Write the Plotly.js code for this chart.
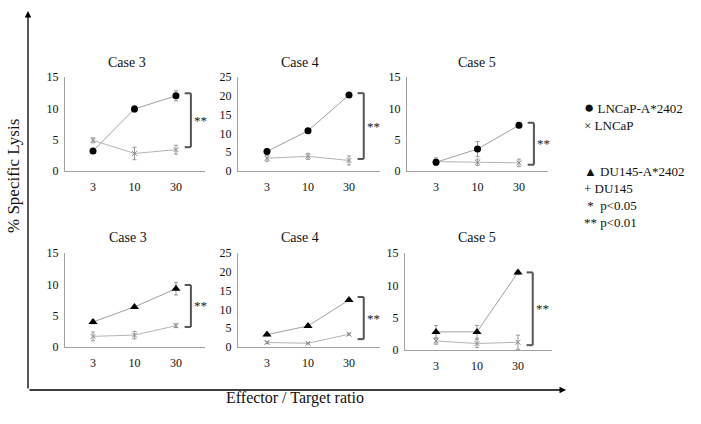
<!DOCTYPE html>
<html><head><meta charset="utf-8">
<script src="https://cdn.plot.ly/plotly-3.0.1.min.js"></script>
<style>html,body{margin:0;padding:0;background:#fff}#chart{width:701px;height:424px}</style>
</head><body><div id="chart"></div>
<script>
// ---- data ----
const ratios = ['3', '10', '30'];
const caseTitles = ['Case 3', 'Case 4', 'Case 5', 'Case 3', 'Case 4', 'Case 5'];

// top row: LNCaP-A*2402 (circles) and LNCaP (x)
const lncapA2402_case3 = [3.2, 9.9, 12.0];
const lncapA2402_case3_err = [0.4, 0.5, 0.8];
const lncap_case3 = [4.9, 2.8, 3.4];
const lncap_case3_err = [0.4, 1.0, 0.7];

const lncapA2402_case4 = [5.2, 10.7, 20.2];
const lncapA2402_case4_err = [0.8, 0.5, 0.4];
const lncap_case4 = [3.4, 3.9, 2.8];
const lncap_case4_err = [0.8, 0.8, 1.2];

const lncapA2402_case5 = [1.4, 3.5, 7.3];
const lncapA2402_case5_err = [0.5, 1.2, 0.4];
const lncap_case5 = [1.5, 1.4, 1.3];
const lncap_case5_err = [0.6, 0.5, 0.6];

// bottom row: DU145-A*2402 (triangles) and DU145
const du145A2402_case3 = [4.0, 6.4, 9.3];
const du145A2402_case3_err = [0.3, 0.2, 1.0];
const du145_case3 = [1.7, 1.9, 3.4];
const du145_case3_err = [0.7, 0.6, 0.3];

const du145A2402_case4 = [3.3, 5.6, 12.5];
const du145A2402_case4_err = [0.3, 0.3, 0.4];
const du145_case4 = [1.2, 1.0, 3.4];
const du145_case4_err = [0.3, 0.2, 0.3];

const du145A2402_case5 = [2.8, 2.8, 12.0];
const du145A2402_case5_err = [1.0, 1.0, 0.3];
const du145_case5 = [1.4, 1.0, 1.2];
const du145_case5_err = [0.5, 0.6, 1.1];

// significance brackets [low, high]
const bracketLow = [3.8, 3.2, 1.0, 3.2, 2.1, 0.75];
const bracketHigh = [12.4, 20.7, 7.7, 9.9, 13.3, 12.0];
const sigLabels = ['**', '**', '**', '**', '**', '**'];

const yMax = [15, 25, 15, 15, 25, 15];

// ---- layout geometry ----
const W = 701, H = 424;
const px = v => v / W;
const py = v => 1 - v / H;
const panels = [
  {dx: [65, 205], dy: [171, 77], rx: [-0.675, 2.7], tx: 127, ty: 62, up: lncapA2402_case3, upE: lncapA2402_case3_err, lo: lncap_case3, loE: lncap_case3_err, sym: 'circle'},
  {dx: [238, 380], dy: [171, 77], rx: [-0.707, 2.756], tx: 300, ty: 62, up: lncapA2402_case4, upE: lncapA2402_case4_err, lo: lncap_case4, loE: lncap_case4_err, sym: 'circle'},
  {dx: [407, 548], dy: [171, 77], rx: [-0.7, 2.7], tx: 477, ty: 62, up: lncapA2402_case5, upE: lncapA2402_case5_err, lo: lncap_case5, loE: lncap_case5_err, sym: 'circle'},
  {dx: [65, 205], dy: [347, 253], rx: [-0.675, 2.7], tx: 128, ty: 237, up: du145A2402_case3, upE: du145A2402_case3_err, lo: du145_case3, loE: du145_case3_err, sym: 'triangle-up'},
  {dx: [238, 380], dy: [347, 253], rx: [-0.707, 2.756], tx: 300, ty: 237, up: du145A2402_case4, upE: du145A2402_case4_err, lo: du145_case4, loE: du145_case4_err, sym: 'triangle-up'},
  {dx: [405, 552], dy: [350, 253], rx: [-0.756, 2.83], tx: 477, ty: 237, up: du145A2402_case5, upE: du145A2402_case5_err, lo: du145_case5, loE: du145_case5_err, sym: 'triangle-up'}
];

const FONT = 'Liberation Serif, Times New Roman, serif';
const traces = [];
const layout = {
  width: W, height: H,
  margin: {l: 0, r: 0, t: 0, b: 0},
  paper_bgcolor: '#fff', plot_bgcolor: 'rgba(0,0,0,0)',
  showlegend: false,
  font: {family: FONT, color: '#111', size: 12},
  shapes: [], annotations: []
};

panels.forEach((p, i) => {
  const n = i + 1;
  const xa = n === 1 ? 'x' : 'x' + n;
  const ya = n === 1 ? 'y' : 'y' + n;
  const xk = n === 1 ? 'xaxis' : 'xaxis' + n;
  const yk = n === 1 ? 'yaxis' : 'yaxis' + n;
  layout[xk] = {
    domain: [px(p.dx[0]), px(p.dx[1])], anchor: ya, type: 'category',
    range: p.rx, showline: true, linecolor: '#a0a0a0', linewidth: 1,
    showgrid: false, zeroline: false, ticks: '', ticklabelstandoff: 5,
    tickfont: {family: FONT, size: 12, color: '#111'}, fixedrange: true
  };
  layout[yk] = {
    domain: [py(p.dy[0]), py(p.dy[1])], anchor: xa, range: [0, yMax[i]],
    dtick: 5, showline: true, linecolor: '#a0a0a0', linewidth: 1,
    showgrid: false, zeroline: false, ticks: '', ticklabelstandoff: 3,
    tickfont: {family: FONT, size: 12, color: '#111'}, fixedrange: true
  };
  // lower (control) series
  traces.push({
    x: ratios, y: p.lo, xaxis: xa, yaxis: ya, type: 'scatter', mode: 'lines+markers',
    line: {color: '#b4b4b4', width: 1},
    marker: {symbol: 'x-thin', size: 5, line: {color: '#888', width: 1}, color: '#888'},
    error_y: {type: 'data', array: p.loE, visible: true, color: '#999', thickness: 1, width: 2},
    cliponaxis: false
  });
  // upper (A*2402) series
  traces.push({
    x: ratios, y: p.up, xaxis: xa, yaxis: ya, type: 'scatter', mode: 'lines+markers',
    line: {color: '#a0a0a0', width: 1},
    marker: {symbol: p.sym, size: p.sym === 'circle' ? 7 : 8, color: '#000'},
    error_y: {type: 'data', array: p.upE, visible: true, color: '#999', thickness: 1, width: 2},
    cliponaxis: false
  });
  // bracket
  const bx = 2.36, bt = 0.15;
  const sc = {xref: xa, yref: ya, type: 'line', line: {color: '#555', width: 2}};
  layout.shapes.push(Object.assign({}, sc, {x0: bx - bt, x1: bx, y0: bracketHigh[i], y1: bracketHigh[i]}));
  layout.shapes.push(Object.assign({}, sc, {x0: bx, x1: bx, y0: bracketHigh[i], y1: bracketLow[i]}));
  layout.shapes.push(Object.assign({}, sc, {x0: bx - bt, x1: bx, y0: bracketLow[i], y1: bracketLow[i]}));
  layout.annotations.push({
    xref: xa, yref: ya, x: bx, y: (bracketLow[i] + bracketHigh[i]) / 2,
    text: sigLabels[i], showarrow: false, xanchor: 'left', yanchor: 'middle', xshift: 1,
    font: {family: FONT, size: 13, color: '#222'}
  });
  // panel title
  layout.annotations.push({
    xref: 'paper', yref: 'paper', x: px(p.tx), y: py(p.ty), text: caseTitles[i],
    showarrow: false, xanchor: 'center', yanchor: 'middle',
    font: {family: FONT, size: 14, color: '#111'}
  });
});

// legend as text (pairs as multi-line blocks)
const legendBlocks = [
  ['<span style="font-size:17px">●</span> LNCaP-A*2402<br>× LNCaP', 115],
  ['▲ DU145-A*2402<br>+ DU145', 180],
  ['&nbsp;*&nbsp;&nbsp;p&lt;0.05<br>** p&lt;0.01', 214]
];
legendBlocks.forEach(([t, y]) => layout.annotations.push({
  xref: 'paper', yref: 'paper', x: px(582), y: py(y), text: t, showarrow: false,
  xanchor: 'left', yanchor: 'middle', align: 'left',
  font: {family: FONT, size: 13, color: '#111'}
}));

// outer axes with arrows
layout.annotations.push({
  xref: 'paper', yref: 'paper', x: px(28), y: py(11), ax: 0, ay: 379, text: '',
  showarrow: true, arrowhead: 2, arrowsize: 1, arrowwidth: 1.3, arrowcolor: '#000'
});
layout.annotations.push({
  xref: 'paper', yref: 'paper', x: px(566), y: py(390), ax: -538, ay: 0, text: '',
  showarrow: true, arrowhead: 2, arrowsize: 1, arrowwidth: 1.3, arrowcolor: '#000'
});
// big axis titles
layout.annotations.push({
  xref: 'paper', yref: 'paper', x: px(13), y: py(176), text: '% Specific Lysis', textangle: -90,
  showarrow: false, xanchor: 'center', yanchor: 'middle', font: {family: FONT, size: 17, color: '#111'}
});
layout.annotations.push({
  xref: 'paper', yref: 'paper', x: px(295), y: py(398), text: 'Effector / Target ratio',
  showarrow: false, xanchor: 'center', yanchor: 'middle', font: {family: FONT, size: 16, color: '#111'}
});

Plotly.newPlot('chart', traces, layout, {staticPlot: true, displayModeBar: false});
</script></body></html>
